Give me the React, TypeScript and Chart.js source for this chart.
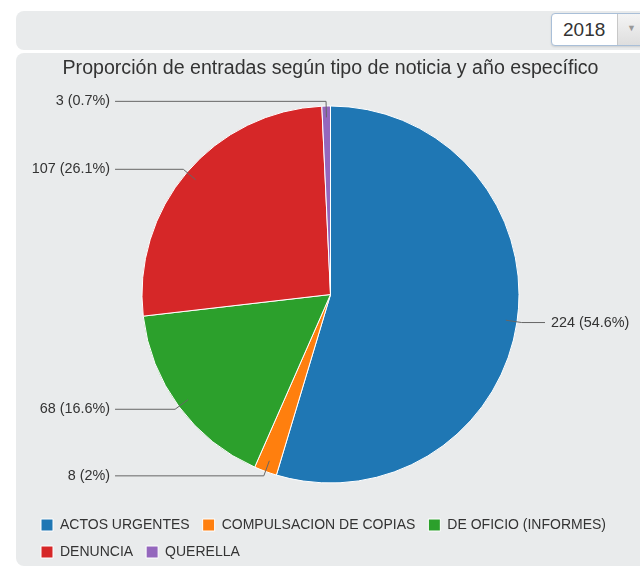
import React, { useEffect, useRef } from 'react';
import { Chart, registerables } from 'chart.js';

Chart.register(...registerables);

const title = 'Proporción de entradas según tipo de noticia y año específico';
const categories = ['ACTOS URGENTES', 'COMPULSACION DE COPIAS', 'DE OFICIO (INFORMES)', 'DENUNCIA', 'QUERELLA'];
const counts = [224, 8, 68, 107, 3];
const colors = ['#1f77b4', '#ff7f0e', '#2ca02c', '#d62728', '#9467bd'];
const selectedYear = '2018';

const FONT = '"Liberation Sans", Arial, Helvetica, sans-serif';

const leaderPlugin = {
  id: 'leaderLabels',
  afterDatasetsDraw(chart: any) {
    const ctx = chart.ctx;
    const meta = chart.getDatasetMeta(0);
    const data: number[] = chart.data.datasets[0].data;
    const total = data.reduce((a, b) => a + b, 0);
    ctx.save();
    ctx.font = `14.4px ${FONT}`;
    ctx.textBaseline = 'middle';
    meta.data.forEach((arc: any, i: number) => {
      const p = arc.getProps(['x', 'y', 'startAngle', 'endAngle', 'outerRadius'], true);
      const mid = (p.startAngle + p.endAngle) / 2;
      const c = Math.cos(mid);
      const s = Math.sin(mid);
      const R = p.outerRadius;
      const x1 = p.x + c * R * 0.94;
      const y1 = p.y + s * R * 0.94;
      const x2 = p.x + c * R * 1.025;
      const y2 = p.y + s * R * 1.025;
      const right = c >= 0;
      const x3 = right ? p.x + R * 1.138 : p.x - R * 1.143;
      ctx.strokeStyle = '#666';
      ctx.lineWidth = 1;
      ctx.beginPath();
      ctx.moveTo(x1, y1);
      ctx.lineTo(x2, y2);
      ctx.lineTo(x3, y2);
      ctx.stroke();
      const pct = Math.round((data[i] / total) * 1000) / 10;
      const text = `${data[i]} (${pct}%)`;
      ctx.fillStyle = '#333';
      ctx.textAlign = right ? 'left' : 'right';
      ctx.fillText(text, right ? x3 + 6 : x3 - 5, y2);
    });
    ctx.restore();
  },
};

export default function App() {
  const ref = useRef<HTMLCanvasElement | null>(null);

  useEffect(() => {
    if (!ref.current) return;
    const chart = new Chart(ref.current, {
      type: 'pie',
      data: {
        labels: categories,
        datasets: [
          {
            data: counts,
            backgroundColor: colors,
            borderColor: '#ffffff',
            borderWidth: 1,
          },
        ],
      },
      options: {
        responsive: false,
        animation: false,
        radius: 188.5,
        layout: { padding: { left: 11, right: 11, top: 0, bottom: 0 } },
        plugins: {
          title: {
            display: true,
            text: title,
            color: '#333',
            font: { family: FONT, size: 19.6, weight: 'normal' },
            padding: { top: 4, bottom: 3.5 },
          },
          legend: {
            display: true,
            position: 'bottom',
            align: 'start',
            labels: {
              boxWidth: 12,
              boxHeight: 12,
              padding: 13,
              color: '#333',
              font: { family: FONT, size: 14 },
            },
          },
          tooltip: { enabled: false },
        },
      } as any,
      plugins: [leaderPlugin],
    });
    return () => chart.destroy();
  }, []);

  return (
    <div
      style={{
        position: 'fixed',
        left: 0,
        top: 0,
        width: 640,
        height: 569,
        overflow: 'hidden',
        background: '#ffffff',
        fontFamily: FONT,
      }}
    >
      <div
        style={{
          position: 'absolute',
          left: 16,
          top: 11,
          width: 660,
          height: 39,
          borderRadius: 8,
          background: '#e9ebec',
        }}
      />
      <div
        style={{
          position: 'absolute',
          left: 551,
          top: 13,
          width: 100,
          height: 31,
          border: '1px solid #a9bfd8',
          borderRadius: 4,
          background: '#ffffff',
          boxShadow: '0 1px 2px rgba(0,0,0,0.12)',
          overflow: 'hidden',
        }}
      >
        <span
          style={{
            position: 'absolute',
            left: 11,
            top: 5,
            fontSize: 19,
            color: '#333',
            lineHeight: '21px',
          }}
        >
          {selectedYear}
        </span>
        <div
          style={{
            position: 'absolute',
            left: 65,
            top: 0,
            width: 40,
            height: 31,
            borderLeft: '1px solid #c8c8c8',
            background: 'linear-gradient(#f4f4f4, #dedede)',
          }}
        >
          <span style={{ position: 'absolute', left: 9, top: 9, fontSize: 9, color: '#999' }}>▼</span>
        </div>
      </div>
      <div
        style={{
          position: 'absolute',
          left: 16,
          top: 53,
          width: 660,
          height: 513,
          borderRadius: 8,
          background: '#e9ebec',
        }}
      />
      <canvas
        ref={ref}
        width={627}
        height={516}
        style={{ position: 'absolute', left: 17, top: 53, width: 627, height: 516 }}
      />
    </div>
  );
}
